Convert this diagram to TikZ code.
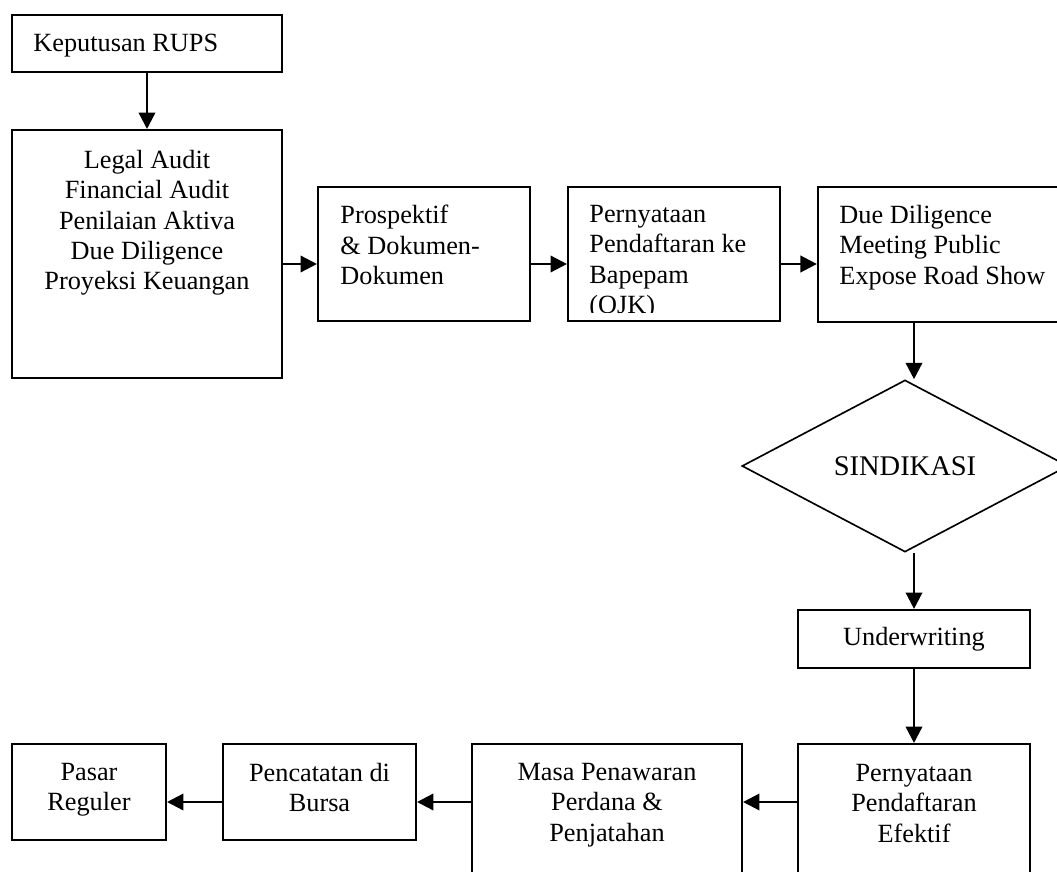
\documentclass[tikz,border=0pt]{standalone}
\usepackage{fontspec}
\setmainfont{Liberation Serif}
\usetikzlibrary{arrows.meta,shapes.geometric}

\begin{document}
\begin{tikzpicture}[
    x=0.4566pt, y=-0.4566pt,
    every node/.style={font=\fontsize{12}{13.8}\selectfont, inner sep=0pt},
    box/.style={draw, line width=0.95pt, rectangle},
    dia/.style={draw, line width=0.75pt, diamond, minimum width=148.9pt, minimum height=78.5pt},
    link/.style={draw, line width=1.1pt, -{Triangle[length=7.5pt, width=7.5pt]}}
  ]
  \clip (0,0) rectangle (1057,872);
  % rows and column for the connectors
  \coordinate (row1) at (0,264);
  \coordinate (row2) at (0,802);
  \coordinate (col) at (914,0);

  % top row
  \node[box, minimum width=123.3pt, minimum height=26pt] (rups) at (147,43.5) {};
  \node[anchor=north west, align=left] (rupstext) at (33,34) {Keputusan RUPS};
  \node[box, minimum width=123.3pt, minimum height=113.2pt] (audit) at (147,254) {};
  \node[anchor=north, align=center] (audittext) at (147,150)
    {Legal Audit\\Financial Audit\\Penilaian Aktiva\\Due Diligence\\Proyeksi Keuangan};
  \node[box, minimum width=96.8pt, minimum height=61.2pt] (prosp) at (424,254) {};
  \node[anchor=north west, align=left] (prosptext) at (340,205)
    {Prospektif\\\& Dokumen-\\Dokumen};
  \node[box, minimum width=96.8pt, minimum height=61.2pt] (daftar) at (674,254) {};
  \begin{scope}
    \clip (568,187) rectangle (780,312);
    \node[anchor=north west, align=left] (daftartext) at (589,205)
      {Pernyataan\\Pendaftaran ke\\Bapepam\\(OJK)};
  \end{scope}
  \node[box, minimum width=114.2pt, minimum height=61.6pt] (due) at (943,254.5) {};
  \node[anchor=north west, align=left] (duetext) at (839,205)
    {Due Diligence\\Meeting Public\\Expose Road Show};

  % right column
  \node[dia, font=\fontsize{13}{15}\selectfont] (sindikasi) at (905,466) {SINDIKASI};
  \node[box, minimum width=105.9pt, minimum height=26.5pt] (under) at (914,639) {Underwriting};

  % bottom row
  \node[box, minimum width=105.9pt, minimum height=63.9pt] (efektif) at (914,814) {};
  \node[anchor=north, align=center] (efektiftext) at (914,764)
    {Pernyataan\\Pendaftaran\\Efektif};
  \node[box, minimum width=123.3pt, minimum height=63.9pt] (masa) at (607,814) {};
  \node[anchor=north, align=center] (masatext) at (607,763)
    {Masa Penawaran\\Perdana \&\\Penjatahan};
  \node[box, minimum width=88.1pt, minimum height=43.8pt] (catat) at (319.5,792) {};
  \node[anchor=north, align=center] (catattext) at (319.5,763)
    {Pencatatan di\\Bursa};
  \node[box, minimum width=70.3pt, minimum height=43.8pt] (pasar) at (89,792) {};
  \node[anchor=north, align=center] (pasartext) at (89,763)
    {Pasar\\Reguler};

  % connectors
  \draw[link] (rups) -- (audit);
  \draw[link] (audit.east |- row1) -- (prosp.west |- row1);
  \draw[link] (prosp.east |- row1) -- (daftar.west |- row1);
  \draw[link] (daftar.east |- row1) -- (due.west |- row1);
  \draw[link] (due.south -| col) -- (sindikasi.north -| col);
  \draw[link] (sindikasi.south -| col) -- (under.north);
  \draw[link] (under) -- (efektif);
  \draw[link] (efektif.west |- row2) -- (masa.east |- row2);
  \draw[link] (masa.west |- row2) -- (catat.east |- row2);
  \draw[link] (catat.west |- row2) -- (pasar.east |- row2);
\end{tikzpicture}
\end{document}
